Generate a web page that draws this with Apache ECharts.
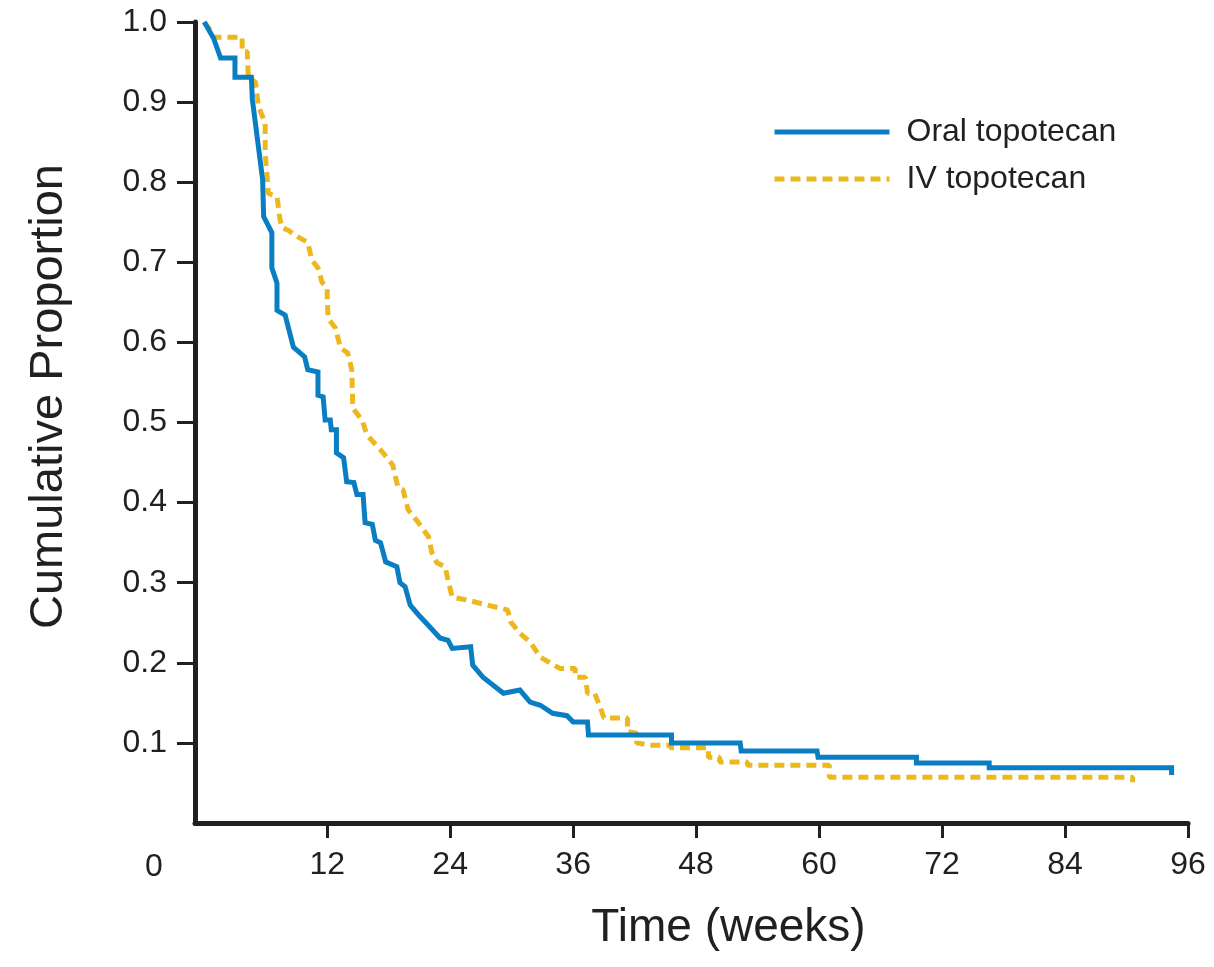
<!DOCTYPE html>
<html>
<head>
<meta charset="utf-8">
<script src="https://cdn.jsdelivr.net/npm/echarts@6/dist/echarts.min.js"></script>
<style>
  html, body { margin: 0; padding: 0; background: #fff; }
  #chart { width: 1214px; height: 967px; }
</style>
</head>
<body>
<div id="chart"></div>
<script>
// x tick labels (the "0" sits apart, left of the y axis)
var xTicks = [12, 24, 36, 48, 60, 72, 84, 96]
var yTicks = [0.1, 0.2, 0.3, 0.4, 0.5, 0.6, 0.7, 0.8, 0.9, 1.0]

// Oral topotecan, traced vertices (weeks, proportion)
var oralWeeks = [0, 0.9, 1.6, 3.0, 3.0, 4.6, 4.7, 5.7, 5.8, 6.6, 6.6, 7.1, 7.1, 7.9, 8.7, 9.8, 10.1, 11.1, 11.1, 11.6, 11.8, 12.3, 12.4, 12.9, 12.9, 13.6, 13.9, 14.6, 14.9, 15.5, 15.7, 16.4, 16.7, 17.2, 17.5, 17.7, 18.8, 19.1, 19.6, 20.1, 20.9, 22.0, 23.0, 23.8, 24.2, 26.0, 26.2, 27.2, 28.2, 29.2, 30.8, 31.8, 32.8, 34.0, 35.4, 36.0, 37.4, 37.5, 45.6, 45.6, 52.3, 52.4, 59.8, 59.9, 69.5, 69.5, 76.6, 76.6, 94.4, 94.4]
var oralSurv = [1.0, 0.98, 0.955, 0.955, 0.931, 0.931, 0.903, 0.803, 0.757, 0.737, 0.693, 0.674, 0.640, 0.634, 0.594, 0.582, 0.566, 0.563, 0.534, 0.532, 0.503, 0.503, 0.491, 0.491, 0.462, 0.456, 0.426, 0.425, 0.41, 0.41, 0.375, 0.373, 0.353, 0.35, 0.336, 0.326, 0.32, 0.30, 0.295, 0.272, 0.26, 0.245, 0.231, 0.228, 0.218, 0.22, 0.197, 0.182, 0.172, 0.162, 0.166, 0.151, 0.147, 0.137, 0.134, 0.126, 0.126, 0.11, 0.11, 0.10, 0.10, 0.09, 0.09, 0.082, 0.082, 0.075, 0.075, 0.069, 0.069, 0.06]

// IV topotecan, traced vertices (weeks, proportion)
var ivWeeks = [0, 0.6, 0.9, 3.7, 3.7, 4.2, 4.3, 5.0, 5.3, 5.95, 5.95, 6.15, 6.25, 7.1, 7.4, 7.6, 8.2, 9.1, 10.1, 10.5, 11.1, 11.5, 12.0, 12.0, 12.1, 12.8, 13.3, 14.0, 14.4, 14.5, 15.4, 15.9, 17.2, 18.4, 18.9, 19.4, 19.9, 20.9, 21.9, 22.2, 22.7, 23.5, 23.8, 24.2, 25.8, 26.7, 29.6, 29.9, 30.8, 31.8, 32.8, 34.7, 36.2, 36.2, 37.2, 37.4, 38.1, 38.8, 39.0, 41.3, 41.3, 42.2, 42.2, 43.5, 45.5, 45.5, 49.2, 49.2, 50.3, 50.3, 53.0, 53.0, 61.0, 61.0, 90.6, 90.6]
var ivSurv = [1.0, 0.99, 0.981, 0.981, 0.963, 0.963, 0.931, 0.925, 0.894, 0.874, 0.836, 0.806, 0.786, 0.782, 0.753, 0.743, 0.740, 0.732, 0.725, 0.703, 0.693, 0.675, 0.668, 0.653, 0.630, 0.618, 0.593, 0.587, 0.566, 0.518, 0.503, 0.484, 0.466, 0.447, 0.419, 0.416, 0.391, 0.375, 0.357, 0.338, 0.325, 0.32, 0.303, 0.282, 0.278, 0.275, 0.266, 0.251, 0.237, 0.226, 0.207, 0.193, 0.193, 0.182, 0.182, 0.162, 0.162, 0.139, 0.131, 0.131, 0.114, 0.112, 0.1, 0.097, 0.097, 0.094, 0.094, 0.082, 0.082, 0.076, 0.076, 0.072, 0.072, 0.057, 0.057, 0.051]

var seriesNames = ['Oral topotecan', 'IV topotecan']

function pairs (xs, ys) {
  return xs.map(function (x, i) { return [x, ys[i]] })
}

var ink = '#231f20'
var font = 'Liberation Sans, Arial, sans-serif'

var myChart = echarts.init(document.getElementById('chart'))
var option = {
  animation: false,
  backgroundColor: '#fff',
  grid: {
    left: 195,
    right: 26,
    top: 22,
    bottom: 144
  },
  legend: {
    left: 767,
    top: 111,
    orient: 'vertical',
    itemWidth: 115,
    itemHeight: 30,
    itemGap: 15,
    lineStyle: { width: 5 },
    itemStyle: { opacity: 0 },
    data: seriesNames,
    textStyle: {
      fontFamily: font,
      fontSize: 32,
      color: ink,
      padding: [0, 0, 0, 12]
    }
  },
  xAxis: {
    type: 'value',
    min: -0.9,
    max: 96,
    name: 'Time (weeks)',
    nameLocation: 'middle',
    nameGap: 82,
    nameTextStyle: {
      fontFamily: font,
      fontSize: 46,
      color: ink,
      padding: [0, 0, 0, 74]
    },
    splitLine: { show: false },
    axisLine: { onZero: false, lineStyle: { color: ink, width: 5 } },
    axisTick: {
      show: true,
      length: 15,
      customValues: xTicks,
      lineStyle: { color: ink, width: 3 }
    },
    axisLabel: {
      customValues: xTicks,
      margin: 26,
      fontFamily: font,
      fontSize: 32,
      color: ink
    }
  },
  yAxis: {
    type: 'value',
    min: 0,
    max: 1,
    name: 'Cumulative Proportion',
    nameLocation: 'middle',
    nameGap: 122,
    nameTextStyle: {
      fontFamily: font,
      fontSize: 47,
      color: ink,
      padding: [0, 0, 0, 52]
    },
    splitLine: { show: false },
    axisLine: { show: true, onZero: false, lineStyle: { color: ink, width: 5 } },
    axisTick: {
      show: true,
      length: 18,
      customValues: yTicks,
      lineStyle: { color: ink, width: 3 }
    },
    axisLabel: {
      customValues: yTicks,
      margin: 28,
      fontFamily: font,
      fontSize: 32,
      color: ink,
      formatter: function (v) { return v.toFixed(1) }
    }
  },
  graphic: [{
    type: 'text',
    left: 145,
    top: 851,
    style: {
      text: '0',
      font: '32px ' + font,
      fill: ink
    }
  }],
  series: [
    {
      name: seriesNames[0],
      type: 'line',
      symbol: 'none',
      z: 3,
      lineStyle: { color: '#0a7ec2', width: 5, join: 'miter' },
      itemStyle: { color: '#0a7ec2' },
      data: pairs(oralWeeks, oralSurv)
    },
    {
      name: seriesNames[1],
      type: 'line',
      symbol: 'none',
      z: 2,
      lineStyle: { color: '#edb81f', width: 5, type: [10, 6] },
      itemStyle: { color: '#edb81f' },
      data: pairs(ivWeeks, ivSurv)
    }
  ]
}
myChart.setOption(option)
</script>
</body>
</html>
